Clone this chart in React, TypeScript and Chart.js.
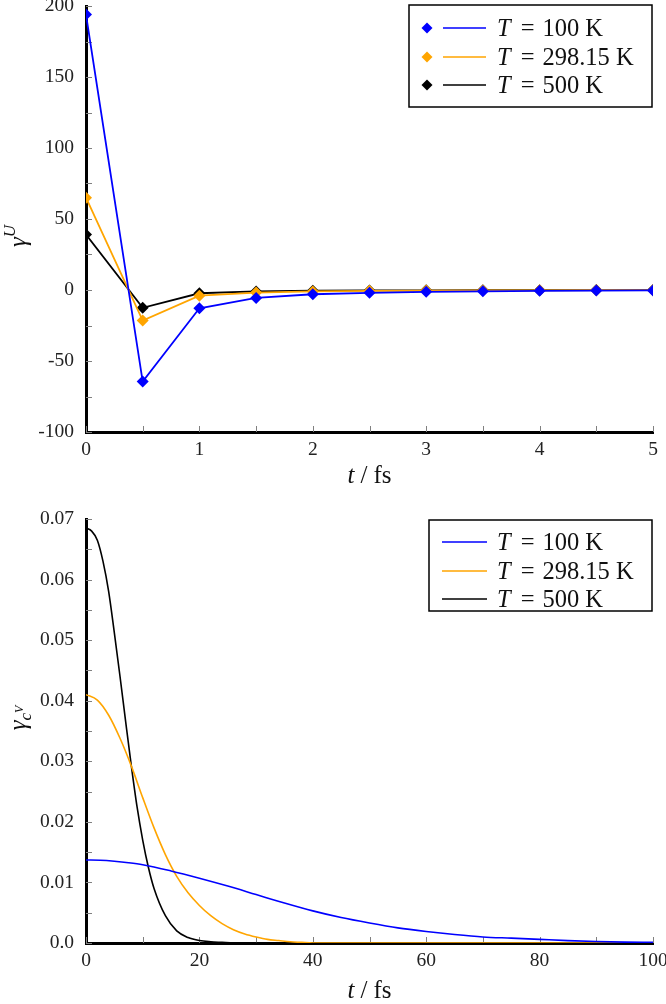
import React, { useEffect, useRef } from 'react';
import { Chart, registerables } from 'chart.js';
Chart.register(...registerables);

// ---------- Top panel data (gamma^U vs t / fs) ----------
const tTop = [0, 0.5, 1, 1.5, 2, 2.5, 3, 3.5, 4, 4.5, 5];
const gU100 = [194, -64.5, -12.9, -5.6, -3, -2, -1.3, -0.9, -0.6, -0.4, -0.3];
const gU298 = [65, -21.5, -4, -1.8, -1, -0.6, -0.4, -0.3, -0.2, -0.1, -0.1];
const gU500 = [39, -12.5, -2.3, -1, -0.5, -0.3, -0.2, -0.1, -0.1, -0.05, 0];
const topXTicks = [0, 1, 2, 3, 4, 5];
const topYTicks = [-100, -50, 0, 50, 100, 150, 200];

// ---------- Bottom panel data (gamma_{c^V} vs t / fs) ----------
const tBlue = [0, 2.5, 5, 7.5, 10, 15, 20, 25, 30, 35, 40, 45, 50, 55, 60, 65, 70, 75, 80, 85, 90, 95, 100];
const gBlue = [0.0137, 0.01366, 0.01350, 0.01326, 0.01293, 0.0119, 0.0107, 0.0094, 0.0080, 0.0066, 0.0053, 0.0042, 0.0033, 0.0025, 0.0019, 0.0014, 0.0010, 0.0008, 0.0006, 0.0004, 0.00025, 0.00015, 0.0001];
const tOrange = [0, 2, 4, 6, 8, 10, 12, 14, 16, 18, 20, 22, 24, 26, 28, 30, 32, 34, 36, 38, 40, 50, 60, 80, 100];
const gOrange = [0.0410, 0.0401, 0.0376, 0.0338, 0.0292, 0.0240, 0.0190, 0.0146, 0.0110, 0.0083, 0.0062, 0.0045, 0.0032, 0.0022, 0.0015, 0.0010, 0.0006, 0.0004, 0.0002, 0.0001, 0, 0, 0, 0, 0];
const tBlack = [0, 1, 2, 3, 4, 5, 6, 7, 8, 9, 10, 11, 12, 14, 16, 18, 20, 22, 24, 26, 30, 40, 60, 80, 100];
const gBlack = [0.0685, 0.0680, 0.0665, 0.0630, 0.0580, 0.0512, 0.0440, 0.0365, 0.0292, 0.0225, 0.0170, 0.0125, 0.0090, 0.0045, 0.0020, 0.0009, 0.0004, 0.0002, 0.0001, 0, 0, 0, 0, 0, 0];
const botXTicks = [0, 20, 40, 60, 80, 100];
const botYTicks = [0, 0.01, 0.02, 0.03, 0.04, 0.05, 0.06, 0.07];

const seriesLabels = ['100 K', '298.15 K', '500 K'];
const seriesColors = ['#0000ff', '#ffa500', '#000000'];

const FONT = "'Liberation Serif', 'DejaVu Serif', serif";

type Part = { t: string; it?: boolean; size: number; dy?: number; gap?: number };

function drawRich(ctx: CanvasRenderingContext2D, parts: Part[], x: number, y: number, align: 'left' | 'center') {
  let total = 0;
  const widths = parts.map((p) => {
    ctx.font = `${p.it ? 'italic ' : ''}${p.size}px ${FONT}`;
    const w = ctx.measureText(p.t).width + (p.gap || 0);
    total += w;
    return w;
  });
  let cx = align === 'center' ? x - total / 2 : x;
  ctx.textBaseline = 'alphabetic';
  ctx.textAlign = 'left';
  parts.forEach((p, i) => {
    ctx.font = `${p.it ? 'italic ' : ''}${p.size}px ${FONT}`;
    ctx.fillText(p.t, cx, y + (p.dy || 0));
    cx += widths[i];
  });
}

type DecorOpts = {
  xMinor: number;
  yMinor: number;
  xTitleY: number;
  yTitle: Part[];
  yTitlePos: [number, number];
  legend: { left: number; top: number; right: number; bottom: number; rows: number[]; markers: boolean; lineX: [number, number]; markerX: number; textX: number };
};

function makeDecor(o: DecorOpts) {
  return {
    id: 'decor',
    beforeDatasetsDraw(chart: any) {
      const ctx: CanvasRenderingContext2D = chart.ctx;
      const a = chart.chartArea;
      const xs = chart.scales.x;
      const ys = chart.scales.y;
      ctx.save();
      ctx.strokeStyle = '#808080';
      ctx.lineWidth = 1;
      const nx = Math.round((xs.max - xs.min) / o.xMinor);
      for (let i = 0; i <= nx; i++) {
        const px = Math.round(xs.getPixelForValue(xs.min + i * o.xMinor)) + 0.5;
        ctx.beginPath();
        ctx.moveTo(px, a.bottom);
        ctx.lineTo(px, a.bottom - 6);
        ctx.stroke();
      }
      const ny = Math.round((ys.max - ys.min) / o.yMinor);
      for (let i = 0; i <= ny; i++) {
        const py = Math.round(ys.getPixelForValue(ys.min + i * o.yMinor)) + 0.5;
        ctx.beginPath();
        ctx.moveTo(a.left, py);
        ctx.lineTo(a.left + 6, py);
        ctx.stroke();
      }
      ctx.restore();
    },
    afterDraw(chart: any) {
      const ctx: CanvasRenderingContext2D = chart.ctx;
      const a = chart.chartArea;
      ctx.save();
      ctx.fillStyle = '#111';
      drawRich(ctx, [
        { t: 't', it: true, size: 25, gap: 6 },
        { t: '/', size: 25, gap: 6 },
        { t: 'fs', size: 25 },
      ], (a.left + a.right) / 2, o.xTitleY, 'center');
      ctx.save();
      ctx.translate(o.yTitlePos[0], o.yTitlePos[1]);
      ctx.rotate(-Math.PI / 2);
      drawRich(ctx, o.yTitle, 0, 8, 'center');
      ctx.restore();
      const L = o.legend;
      ctx.fillStyle = '#fff';
      ctx.fillRect(L.left, L.top, L.right - L.left, L.bottom - L.top);
      ctx.strokeStyle = '#000';
      ctx.lineWidth = 1.5;
      ctx.strokeRect(L.left, L.top, L.right - L.left, L.bottom - L.top);
      L.rows.forEach((ry, i) => {
        const col = seriesColors[i];
        if (L.markers) {
          ctx.fillStyle = col;
          ctx.beginPath();
          ctx.moveTo(L.markerX, ry - 5.5);
          ctx.lineTo(L.markerX + 5.5, ry);
          ctx.lineTo(L.markerX, ry + 5.5);
          ctx.lineTo(L.markerX - 5.5, ry);
          ctx.closePath();
          ctx.fill();
        }
        ctx.strokeStyle = col;
        ctx.lineWidth = 1.6;
        ctx.beginPath();
        ctx.moveTo(L.lineX[0], ry);
        ctx.lineTo(L.lineX[1], ry);
        ctx.stroke();
        ctx.fillStyle = '#111';
        drawRich(ctx, [
          { t: 'T', it: true, size: 24.5, gap: 10 },
          { t: '=', size: 24.5, gap: 8 },
          { t: seriesLabels[i], size: 24.5 },
        ], L.textX, ry + 8, 'left');
      });
      ctx.restore();
    },
  };
}

function baseScales(xMin: number, xMax: number, yMin: number, yMax: number, xTicks: number[], yTicks: number[], xH: number, yFmt: (v: number) => string) {
  return {
    x: {
      type: 'linear',
      min: xMin,
      max: xMax,
      grid: { display: false, drawTicks: false },
      border: { display: true, width: 3, color: '#000' },
      afterBuildTicks: (s: any) => { s.ticks = xTicks.map((v) => ({ value: v })); },
      afterFit: (s: any) => { s.height = xH; s.paddingLeft = 0; s.paddingRight = 0; },
      ticks: { color: '#222', font: { family: FONT, size: 19.5 }, padding: 6, maxRotation: 0, callback: (v: any) => String(v) },
    },
    y: {
      type: 'linear',
      min: yMin,
      max: yMax,
      grid: { display: false, drawTicks: false },
      border: { display: true, width: 3, color: '#000' },
      afterBuildTicks: (s: any) => { s.ticks = yTicks.map((v) => ({ value: v })); },
      afterFit: (s: any) => { s.width = 86; s.paddingTop = 0; s.paddingBottom = 0; },
      ticks: { color: '#222', font: { family: FONT, size: 19.5 }, padding: 12, callback: (v: any) => yFmt(Number(v)) },
    },
  };
}

function TopChart() {
  const ref = useRef<HTMLCanvasElement>(null);
  useEffect(() => {
    const series = [gU100, gU298, gU500];
    const chart = new Chart(ref.current!, {
      type: 'line',
      data: {
        datasets: series.map((s, i) => ({
          label: 'T = ' + seriesLabels[i],
          data: tTop.map((t, j) => ({ x: t, y: s[j] })),
          borderColor: seriesColors[i],
          backgroundColor: seriesColors[i],
          borderWidth: 1.8,
          pointStyle: 'rectRot',
          pointRadius: 6,
          pointBorderWidth: 0,
          tension: 0,
        })),
      },
      options: {
        responsive: false,
        animation: false,
        layout: { padding: { top: 6, right: 13, left: 0, bottom: 0 } },
        plugins: { legend: { display: false }, tooltip: { enabled: false } },
        scales: baseScales(0, 5, -100, 200, topXTicks, topYTicks, 68, (v) => String(v)) as any,
      },
      plugins: [
        makeDecor({
          xMinor: 0.5,
          yMinor: 25,
          xTitleY: 483,
          yTitle: [{ t: 'γ', it: true, size: 25 }, { t: 'U', it: true, size: 17, dy: -11 }],
          yTitlePos: [18, 236],
          legend: { left: 409, top: 5, right: 652, bottom: 107, rows: [28, 57, 85], markers: true, lineX: [443, 486], markerX: 427, textX: 497 },
        }),
      ],
    });
    return () => chart.destroy();
  }, []);
  return <canvas ref={ref} width={666} height={500} style={{ display: 'block' }} />;
}

function BottomChart() {
  const ref = useRef<HTMLCanvasElement>(null);
  useEffect(() => {
    const xs = [tBlue, tOrange, tBlack];
    const ys = [gBlue, gOrange, gBlack];
    const chart = new Chart(ref.current!, {
      type: 'line',
      data: {
        datasets: ys.map((s, i) => ({
          label: 'T = ' + seriesLabels[i],
          data: xs[i].map((t, j) => ({ x: t, y: s[j] })),
          borderColor: seriesColors[i],
          backgroundColor: seriesColors[i],
          borderWidth: 1.6,
          pointRadius: 0,
          cubicInterpolationMode: 'monotone',
        })),
      },
      options: {
        responsive: false,
        animation: false,
        layout: { padding: { top: 19, right: 13, left: 0, bottom: 0 } },
        plugins: { legend: { display: false }, tooltip: { enabled: false } },
        scales: baseScales(0, 100, 0, 0.07, botXTicks, botYTicks, 61, (v) => (v === 0 ? '0.0' : v.toFixed(2))) as any,
      },
      plugins: [
        makeDecor({
          xMinor: 10,
          yMinor: 0.005,
          xTitleY: 498,
          yTitle: [{ t: 'γ', it: true, size: 25 }, { t: 'c', it: true, size: 17, dy: 5 }, { t: 'V', it: true, size: 12, dy: -3 }],
          yTitlePos: [18, 218],
          legend: { left: 429, top: 20, right: 652, bottom: 111, rows: [42, 71, 99], markers: false, lineX: [442, 487], markerX: 0, textX: 497 },
        }),
      ],
    });
    return () => chart.destroy();
  }, []);
  return <canvas ref={ref} width={666} height={504} style={{ display: 'block' }} />;
}

export default function App() {
  return (
    <div style={{ position: 'absolute', left: 0, top: 0, width: 666, height: 1004, background: '#fff' }}>
      <TopChart />
      <BottomChart />
    </div>
  );
}
